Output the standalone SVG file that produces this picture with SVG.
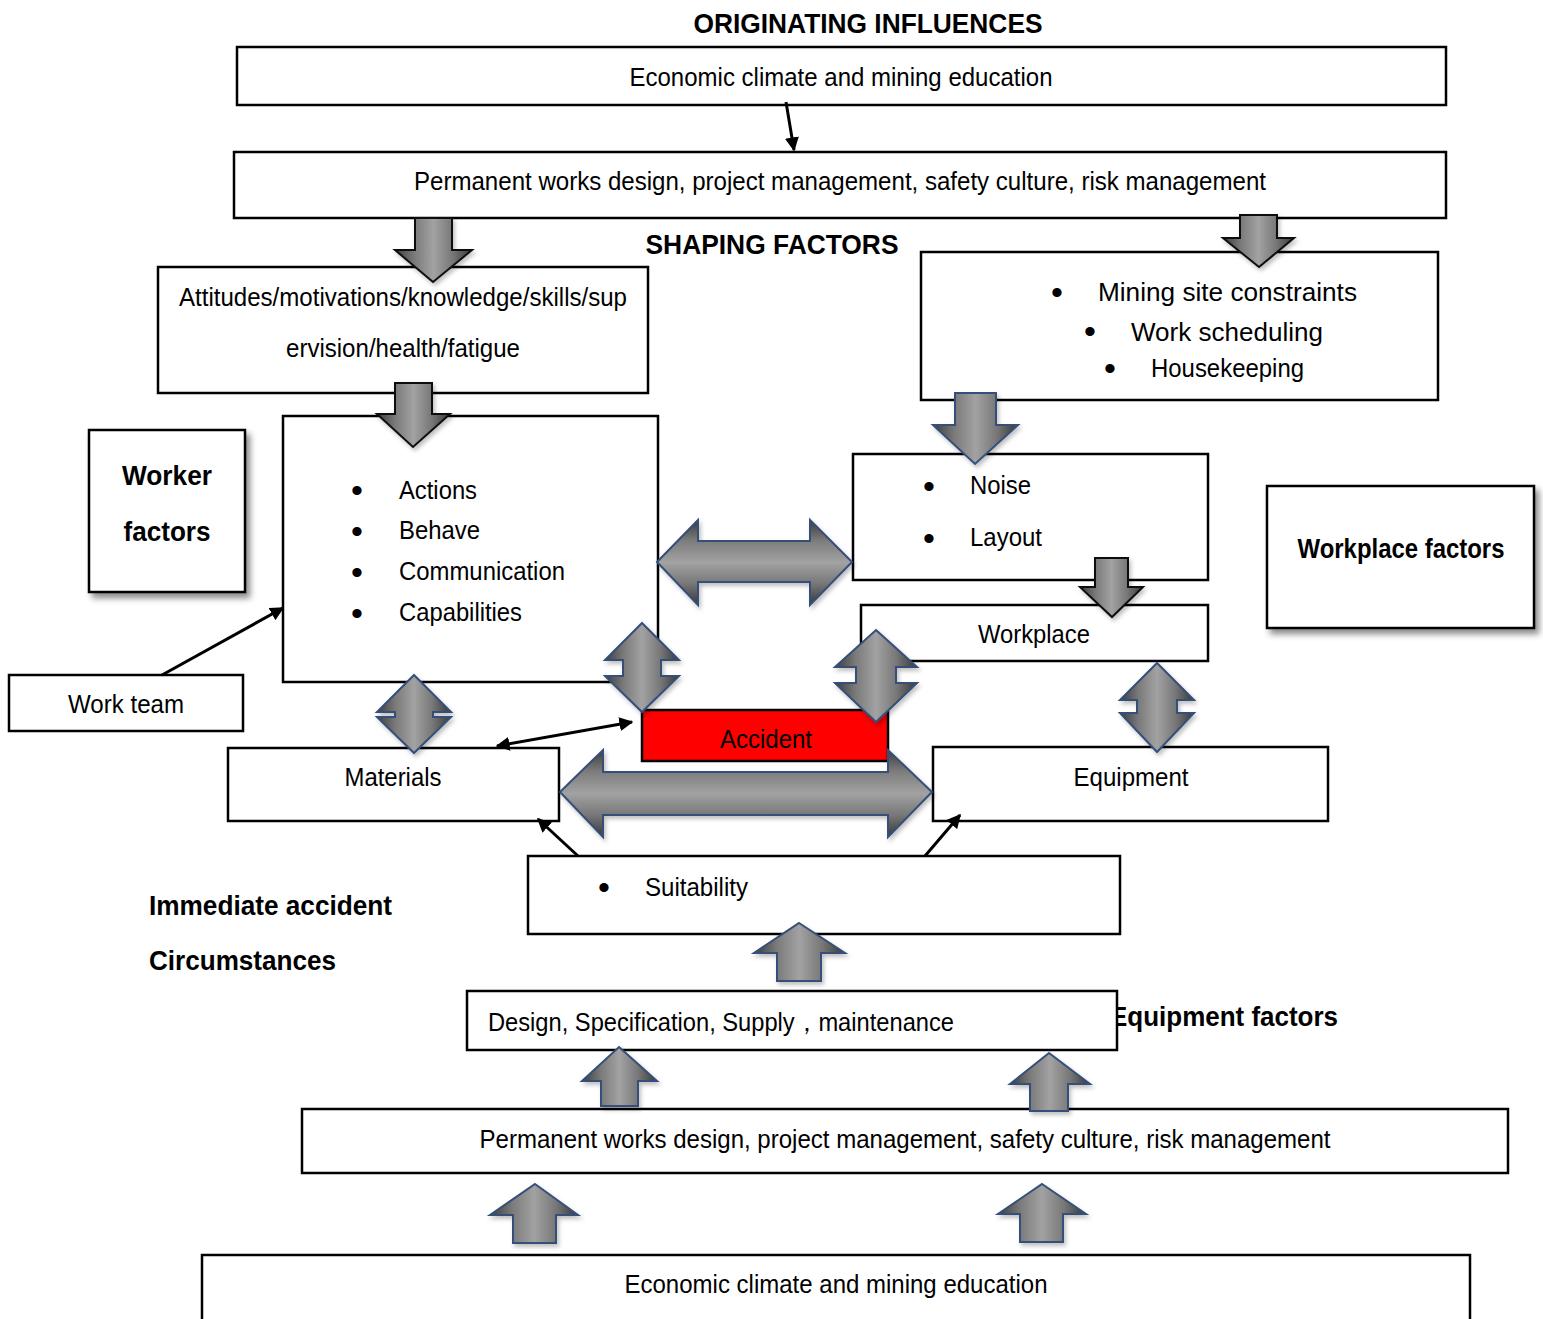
<svg xmlns="http://www.w3.org/2000/svg" width="1543" height="1319" viewBox="0 0 1543 1319">
<style>
.box{fill:#fff;stroke:#000;stroke-width:2.5}
.t{font-family:"Liberation Sans Narrow","Liberation Sans",Arial,sans-serif;font-size:26px;fill:#000}
.b{font-weight:bold;font-size:28px}
.mid{text-anchor:middle}
.bu{font-family:"Liberation Sans",Arial,sans-serif;font-size:34px;fill:#000;text-anchor:middle}
.blk{fill:url(#gv);stroke:#34507a;stroke-width:2;filter:url(#sh2)}
.blkh{fill:url(#gh);stroke:#34507a;stroke-width:2;filter:url(#sh2)}
.dn{fill:url(#gv);stroke:#111;stroke-width:2;filter:url(#sh2)}
.con{stroke:#000;stroke-width:3;fill:none}
</style>
<defs>
<linearGradient id="gv" x1="0" y1="0" x2="1" y2="0">
<stop offset="0" stop-color="#3c3c3c"/><stop offset="0.25" stop-color="#7a7a7a"/><stop offset="0.5" stop-color="#a2a2a2"/><stop offset="0.75" stop-color="#777"/><stop offset="1" stop-color="#383838"/>
</linearGradient>
<linearGradient id="gh" x1="0" y1="0" x2="0" y2="1">
<stop offset="0" stop-color="#3c3c3c"/><stop offset="0.25" stop-color="#7d7d7d"/><stop offset="0.5" stop-color="#a2a2a2"/><stop offset="0.75" stop-color="#777"/><stop offset="1" stop-color="#383838"/>
</linearGradient>
<filter id="sh" x="-10%" y="-10%" width="130%" height="130%">
<feDropShadow dx="4" dy="5" stdDeviation="3" flood-color="#000" flood-opacity="0.45"/>
</filter>
<filter id="sh2" x="-10%" y="-10%" width="130%" height="130%">
<feDropShadow dx="2" dy="3" stdDeviation="2" flood-color="#000" flood-opacity="0.25"/>
</filter>
<marker id="ah" viewBox="0 0 10 10" refX="9" refY="5" markerWidth="14" markerHeight="14" markerUnits="userSpaceOnUse" orient="auto-start-reverse">
<path d="M0,0 L10,5 L0,10 Z" fill="#000"/>
</marker>
</defs>
<rect width="1543" height="1319" fill="#fff"/>

<g id="labels">
<text class="t b mid" x="868" y="33" textLength="349" lengthAdjust="spacingAndGlyphs">ORIGINATING INFLUENCES</text>
<text class="t b mid" x="772" y="254" textLength="253" lengthAdjust="spacingAndGlyphs">SHAPING FACTORS</text>
<text class="t b" x="149" y="915" textLength="243" lengthAdjust="spacingAndGlyphs">Immediate accident</text>
<text class="t b" x="149" y="970" textLength="187" lengthAdjust="spacingAndGlyphs">Circumstances</text>
<text class="t b" x="1110" y="1026" textLength="228" lengthAdjust="spacingAndGlyphs">Equipment factors</text>
</g>

<g id="n-econ-top">
<rect class="box" x="237" y="47" width="1209" height="58"/>
<text class="t mid" x="841" y="86" textLength="423" lengthAdjust="spacingAndGlyphs">Economic climate and mining education</text>
</g>
<g id="n-perm-top">
<rect class="box" x="234" y="152" width="1212" height="66"/>
<text class="t mid" x="840" y="190" textLength="852" lengthAdjust="spacingAndGlyphs">Permanent works design, project management, safety culture, risk management</text>
</g>
<g id="n-attitudes">
<rect class="box" x="158" y="267" width="490" height="126"/>
<text class="t mid" x="403" y="306" textLength="448" lengthAdjust="spacingAndGlyphs">Attitudes/motivations/knowledge/skills/sup</text>
<text class="t mid" x="403" y="357" textLength="234" lengthAdjust="spacingAndGlyphs">ervision/health/fatigue</text>
</g>
<g id="n-mining">
<rect class="box" x="921" y="252" width="517" height="148"/>
<text class="bu" x="1057" y="304">•</text>
<text class="t" x="1098" y="301" textLength="259" lengthAdjust="spacingAndGlyphs" font-size="29">Mining site constraints</text>
<text class="bu" x="1090" y="343">•</text>
<text class="t" x="1131" y="341" textLength="192" lengthAdjust="spacingAndGlyphs" font-size="29">Work scheduling</text>
<text class="bu" x="1110" y="380">•</text>
<text class="t" x="1151" y="377" textLength="153" lengthAdjust="spacingAndGlyphs" font-size="27">Housekeeping</text>
</g>
<g id="n-actions">
<rect class="box" x="283" y="416" width="375" height="266"/>
<text class="bu" x="357" y="502">•</text><text class="t" x="399" y="499" textLength="78" lengthAdjust="spacingAndGlyphs">Actions</text>
<text class="bu" x="357" y="543">•</text><text class="t" x="399" y="539" textLength="81" lengthAdjust="spacingAndGlyphs">Behave</text>
<text class="bu" x="357" y="584">•</text><text class="t" x="399" y="580" textLength="166" lengthAdjust="spacingAndGlyphs">Communication</text>
<text class="bu" x="357" y="625">•</text><text class="t" x="399" y="621" textLength="123" lengthAdjust="spacingAndGlyphs">Capabilities</text>
</g>
<g id="n-worker">
<rect class="box" x="89" y="430" width="156" height="162" filter="url(#sh)"/>
<text class="t b mid" x="167" y="485" textLength="90" lengthAdjust="spacingAndGlyphs">Worker</text>
<text class="t b mid" x="167" y="541" textLength="87" lengthAdjust="spacingAndGlyphs">factors</text>
</g>
<g id="n-workteam">
<rect class="box" x="9" y="675" width="234" height="56"/>
<text class="t mid" x="126" y="713" textLength="116" lengthAdjust="spacingAndGlyphs">Work team</text>
</g>
<g id="n-noise">
<rect class="box" x="853" y="454" width="355" height="126"/>
<text class="bu" x="929" y="498">•</text><text class="t" x="970" y="494" textLength="61" lengthAdjust="spacingAndGlyphs">Noise</text>
<text class="bu" x="929" y="550">•</text><text class="t" x="970" y="546" textLength="72" lengthAdjust="spacingAndGlyphs">Layout</text>
</g>
<g id="n-workplace-factors">
<rect class="box" x="1267" y="486" width="267" height="142" filter="url(#sh)"/>
<text class="t b mid" x="1401" y="558" font-size="27" textLength="207" lengthAdjust="spacingAndGlyphs">Workplace factors</text>
</g>
<g id="n-workplace">
<rect class="box" x="861" y="605" width="347" height="56"/>
<text class="t mid" x="1034" y="643" textLength="112" lengthAdjust="spacingAndGlyphs">Workplace</text>
</g>
<g id="n-accident">
<rect x="642" y="710" width="246" height="51" fill="#f00" stroke="#000" stroke-width="2.5"/>
<text class="t mid" x="766" y="748" textLength="92" lengthAdjust="spacingAndGlyphs">Accident</text>
</g>
<g id="n-materials">
<rect class="box" x="228" y="748" width="331" height="73"/>
<text class="t mid" x="393" y="786" textLength="97" lengthAdjust="spacingAndGlyphs">Materials</text>
</g>
<g id="n-equipment">
<rect class="box" x="933" y="747" width="395" height="74"/>
<text class="t mid" x="1131" y="786" textLength="115" lengthAdjust="spacingAndGlyphs">Equipment</text>
</g>
<g id="n-suitability">
<rect class="box" x="528" y="856" width="592" height="78"/>
<text class="bu" x="604" y="899">•</text>
<text class="t" x="645" y="896" textLength="103" lengthAdjust="spacingAndGlyphs">Suitability</text>
</g>
<g id="n-design">
<rect class="box" x="467" y="991" width="650" height="59"/>
<text class="t" x="488" y="1031" textLength="466" lengthAdjust="spacingAndGlyphs" font-family="'Liberation Sans Narrow','Liberation Sans','Noto Sans CJK SC',sans-serif">Design, Specification, Supply，maintenance</text>
</g>
<g id="n-perm-bottom">
<rect class="box" x="302" y="1109" width="1206" height="64"/>
<text class="t mid" x="905" y="1148" textLength="851" lengthAdjust="spacingAndGlyphs">Permanent works design, project management, safety culture, risk management</text>
</g>
<g id="n-econ-bottom">
<rect class="box" x="202" y="1255" width="1268" height="70"/>
<text class="t mid" x="836" y="1293" textLength="423" lengthAdjust="spacingAndGlyphs">Economic climate and mining education</text>
</g>

<g id="connectors">
<line class="con" x1="786" y1="102" x2="794" y2="150" marker-end="url(#ah)"/>
<line class="con" x1="162" y1="675" x2="283" y2="608" marker-end="url(#ah)"/>
<line class="con" x1="497" y1="746" x2="632" y2="722" marker-start="url(#ah)" marker-end="url(#ah)"/>
<line class="con" x1="578" y1="856" x2="538" y2="819" marker-end="url(#ah)"/>
<line class="con" x1="925" y1="856" x2="960" y2="815" marker-end="url(#ah)"/>

<path class="dn" d="M415,218 L452,218 L452,250 L472,250 L433,282 L395,250 L415,250 Z"/>
<path class="dn" d="M1240,215 L1277,215 L1277,238 L1294,238 L1259,267 L1223,238 L1240,238 Z"/>
<path class="dn" d="M395,383 L432,383 L432,414 L450,414 L413,447 L377,414 L395,414 Z"/>
<path class="blk" d="M955,393 L996,393 L996,425 L1018,425 L975,464 L933,425 L955,425 Z"/>
<path class="dn" d="M1095,558 L1128,558 L1128,587 L1143,587 L1112,617 L1080,587 L1095,587 Z"/>

<path class="blkh" d="M657,562 L698,520 L698,541 L810,541 L810,520 L852,562 L810,605 L810,582 L698,582 L698,605 Z"/>
<path class="blkh" d="M560,792 L603,750 L603,772 L888,772 L888,750 L932,792 L888,837 L888,815 L603,815 L603,837 Z"/>

<path class="blk" d="M414,675 L451,712 L433,712 L433,717 L451,717 L414,753 L377,717 L395,717 L395,712 L377,712 Z"/>
<path class="blk" d="M642,623 L679,660 L661,660 L661,676 L679,676 L642,712 L605,676 L623,676 L623,660 L605,660 Z"/>
<path class="blk" d="M876,630 L917,667 L896,667 L896,683 L917,683 L876,722 L835,683 L856,683 L856,667 L835,667 Z"/>
<path class="blk" d="M1157,663 L1194,700 L1177,700 L1177,713 L1194,713 L1157,752 L1120,713 L1137,713 L1137,700 L1120,700 Z"/>

<path class="blk" d="M799,923 L845,953 L821,953 L821,981 L777,981 L777,953 L754,953 Z"/>
<path class="blk" d="M619,1047 L657,1081 L638,1081 L638,1106 L601,1106 L601,1081 L582,1081 Z"/>
<path class="blk" d="M1049,1053 L1090,1084 L1068,1084 L1068,1111 L1030,1111 L1030,1084 L1010,1084 Z"/>
<path class="blk" d="M535,1184 L578,1215 L556,1215 L556,1243 L513,1243 L513,1215 L490,1215 Z"/>
<path class="blk" d="M1042,1184 L1086,1214 L1063,1214 L1063,1242 L1020,1242 L1020,1214 L998,1214 Z"/>
</g>
</svg>
